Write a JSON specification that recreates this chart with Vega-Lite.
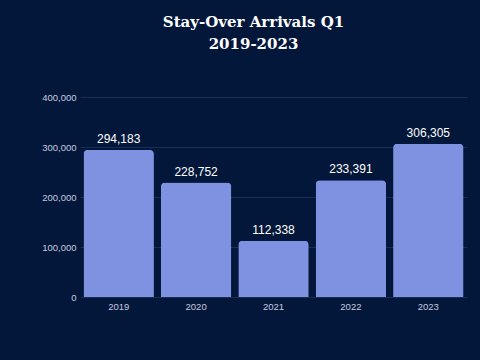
{
  "$schema": "https://vega.github.io/schema/vega-lite/v6.json",
  "width": 387,
  "height": 200,
  "autosize": {"type": "none"},
  "padding": {"left": 80, "top": 97, "right": 13, "bottom": 63},
  "background": "#03173a",
  "title": {
    "text": ["Stay-Over Arrivals Q1", "2019-2023"],
    "font": "DejaVu Serif",
    "fontSize": 15,
    "fontWeight": "bold",
    "color": "#ffffff",
    "lineHeight": 22,
    "anchor": "middle",
    "frame": "group",
    "dx": -20,
    "offset": 40
  },
  "data": {
    "values": [
      {"year": "2019", "arrivals": 294183},
      {"year": "2020", "arrivals": 228752},
      {"year": "2021", "arrivals": 112338},
      {"year": "2022", "arrivals": 233391},
      {"year": "2023", "arrivals": 306305}
    ]
  },
  "encoding": {
    "x": {
      "field": "year",
      "type": "nominal",
      "scale": {"paddingInner": 0.09, "paddingOuter": 0.045},
      "axis": {
        "title": null,
        "labelAngle": 0,
        "labelColor": "#c5cbe0",
        "labelFont": "Liberation Sans",
        "labelFontSize": 9.5,
        "labelPadding": 4,
        "ticks": false,
        "domain": false,
        "grid": false
      }
    },
    "y": {
      "field": "arrivals",
      "type": "quantitative",
      "scale": {"domain": [0, 400000]},
      "axis": {
        "title": null,
        "values": [0, 100000, 200000, 300000, 400000],
        "format": ",.0f",
        "labelColor": "#c5cbe0",
        "labelFont": "Liberation Sans",
        "labelFontSize": 9.5,
        "labelPadding": 4,
        "ticks": false,
        "domain": false,
        "gridColor": "#24385f",
        "gridWidth": 0.7
      }
    }
  },
  "layer": [
    {
      "mark": {"type": "bar", "color": "#7f92e2", "cornerRadiusTopLeft": 4, "cornerRadiusTopRight": 4}
    },
    {
      "mark": {"type": "text", "color": "#ffffff", "font": "Liberation Sans", "fontSize": 12, "dy": -11, "baseline": "middle"},
      "encoding": {"text": {"field": "arrivals", "type": "quantitative", "format": ",.0f"}}
    }
  ],
  "config": {"view": {"stroke": null}}
}
